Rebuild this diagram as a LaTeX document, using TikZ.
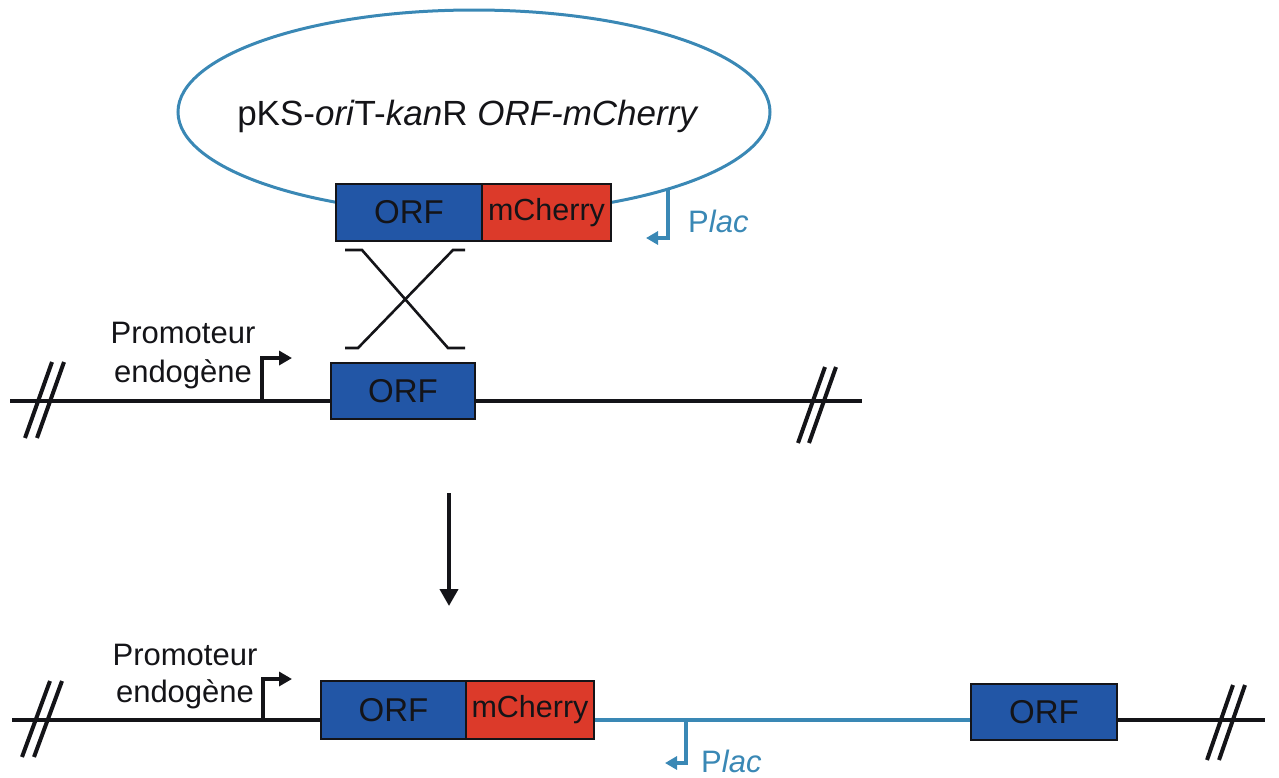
\documentclass[tikz,border=0pt]{standalone}
\usepackage{fontspec}
\setmainfont{Liberation Sans}
\usetikzlibrary{arrows.meta,shapes.geometric}
\definecolor{orfblue}{HTML}{2256A6}
\definecolor{cherryred}{HTML}{DC3A2A}
\definecolor{lineblue}{HTML}{3A88B5}
\definecolor{ink}{HTML}{141418}
\begin{document}
\begin{tikzpicture}[x=1pt,y=-1pt,
 box/.style={draw=ink, line width=2pt, inner sep=0pt, anchor=north west, text=ink, font=\fontsize{33}{39}\selectfont},
 orfbox/.style={box, fill=orfblue},
 cherrybox/.style={box, fill=cherryred, font=\fontsize{30.5}{36}\selectfont},
 dna/.style={line width=3.2pt, ink},
 bluedna/.style={line width=3.2pt, lineblue},
 brk/.style={line width=4pt, ink},
 cross/.style={line width=2.6pt, ink},
 prom/.style={line width=3.6pt, ink, -{Triangle[length=13pt,width=14pt]}},
 plac/.style={line width=3.6pt, lineblue, -{Triangle[length=12pt,width=13pt]}},
 down/.style={line width=4pt, ink, -{Triangle[length=17pt,width=18pt]}},
 lbl/.style={font=\fontsize{31}{37}\selectfont, anchor=base, inner sep=0pt, text=ink},
 placlbl/.style={font=\fontsize{31}{37}\selectfont, anchor=base west, inner sep=0pt, text=lineblue}]
\useasboundingbox (0,0) rectangle (1279,777);

% ---------- plasmid ----------
\node[draw=lineblue, line width=3pt, ellipse, minimum width=592pt, minimum height=204pt, inner sep=0pt] (plasmid) at (474,112) {};
\node[font=\fontsize{35}{42}\selectfont, anchor=base, inner sep=0pt, text=ink] (title) at (468,125) {pKS-\textit{ori}T-\textit{kan}R \textit{ORF-mCherry}};
\node[orfbox, minimum width=146pt, minimum height=57pt] (orfA) at (335,183) {ORF};
\node[cherrybox, minimum width=129pt, minimum height=57pt] (cherryA) at (481,183) {mCherry};
\coordinate (placA) at (646,238);
\draw[plac] (plasmid.-22.4) |- (placA);
\node[placlbl] (placAt) at (688,232) {P\textit{lac}};

% ---------- crossover ----------
\coordinate (c1) at (345,250); \coordinate (c2) at (362,250);
\coordinate (c3) at (448,348); \coordinate (c4) at (465,348);
\coordinate (c5) at (465,250); \coordinate (c6) at (453,250);
\coordinate (c7) at (358,348); \coordinate (c8) at (345,348);
\draw[cross] (c1) -- (c2) -- (c3) -- (c4);
\draw[cross] (c5) -- (c6) -- (c7) -- (c8);

% ---------- chromosome before ----------
\coordinate (mL) at (10,401); \coordinate (mR) at (862,401);
\draw[dna] (mL) -- (mR);
\draw[brk] (52,362) -- (25,438);
\draw[brk] (64,362) -- (37,438);
\draw[brk] (825,367) -- (798,443);
\draw[brk] (836,367) -- (809,443);
\node[orfbox, minimum width=144pt, minimum height=56pt] (orfM) at (330,362) {ORF};
\coordinate (pm) at (262,401); \coordinate (pmT) at (292,358);
\draw[prom] (pm) |- (pmT);
\node[lbl] (promM1) at (183,343) {Promoteur};
\node[lbl] (promM2) at (183,382) {endogène};

% ---------- arrow ----------
\coordinate (a1) at (449,493); \coordinate (a2) at (449,606);
\draw[down] (a1) -- (a2);

% ---------- chromosome after ----------
\node[orfbox, minimum width=145pt, minimum height=58pt] (orfB) at (320,680) {ORF};
\node[cherrybox, minimum width=128pt, minimum height=58pt] (cherryB) at (465,680) {mCherry};
\node[orfbox, minimum width=146pt, minimum height=56pt] (orfC) at (970,683) {ORF};
\coordinate (bL) at (12,720); \coordinate (bR) at (1265,720);
\draw[dna] (bL) -- (orfB.west |- bL);
\draw[bluedna] (cherryB.east |- bL) -- (orfC.west |- bL);
\draw[dna] (orfC.east |- bL) -- (bR);
\draw[brk] (50,681) -- (22,757);
\draw[brk] (62,681) -- (34,757);
\draw[brk] (1233,685) -- (1207,760);
\draw[brk] (1245,685) -- (1219,760);
\coordinate (pb) at (263,720); \coordinate (pbT) at (292,679);
\draw[prom] (pb) |- (pbT);
\node[lbl] (promB1) at (185,665) {Promoteur};
\node[lbl] (promB2) at (185,702) {endogène};
\coordinate (placB) at (686,720); \coordinate (placBT) at (665,763);
\draw[plac] (placB) |- (placBT);
\node[placlbl] (placBt) at (701,772) {P\textit{lac}};
\end{tikzpicture}
\end{document}
